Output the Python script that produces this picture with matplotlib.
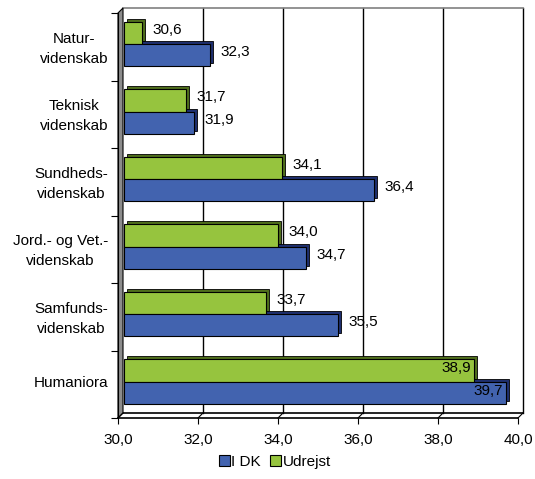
import numpy as np
import matplotlib.pyplot as plt
from matplotlib.patches import Patch, Polygon
from matplotlib.transforms import ScaledTranslation

plt.rcParams['font.family'] = ['Liberation Sans', 'DejaVu Sans']

categories = ["Natur-\nvidenskab", "Teknisk\nvidenskab", "Sundheds-\nvidenskab",
              "Jord.- og Vet.-\nvidenskab", "Samfunds-\nvidenskab", "Humaniora"]
i_dk = [32.3, 31.9, 36.4, 34.7, 35.5, 39.7]
udrejst = [30.6, 31.7, 34.1, 34.0, 33.7, 38.9]
xticks = [30, 32, 34, 36, 38, 40]

blue = "#4263AF"
blue_dark = "#1E2F6E"
green = "#96C43E"
green_dark = "#4F6E1C"
fs = 11

DPI = 100
fig = plt.figure(figsize=(5.35, 4.79), dpi=DPI)
W, H = 535, 479
ax = fig.add_axes([118 / W, 1 - 418 / H, 400 / W, 405 / H])
ax.set_xlim(30, 40)
ax.set_ylim(5.5, -0.5)

def shift(dx, dy):
    return ax.transData + ScaledTranslation(dx / DPI, dy / DPI, fig.dpi_scale_trans)

# back wall (3D depth)
depth = 5
back = ax.transAxes + ScaledTranslation(depth / DPI, depth / DPI, fig.dpi_scale_trans)
for t in xticks[1:]:
    ax.plot([t, t], [5.5, -0.5], color="black", lw=1.0, transform=shift(depth, depth), zorder=1,
            clip_on=False)
ax.plot([0, 1], [1, 1], color="#808080", lw=1.2, transform=back, clip_on=False, zorder=1)
ax.plot([0, 1], [0, 0], color="black", lw=1.2, transform=back, clip_on=False, zorder=1)

# left wall
dxa, dya = depth / 400, depth / 405
wall = Polygon([(0, 0), (dxa, dya), (dxa, 1 + dya), (0, 1)], closed=True,
               facecolor="#8C8C8C", edgecolor="black", lw=0.8, transform=ax.transAxes,
               clip_on=False, zorder=2)
ax.add_patch(wall)
# floor depth lines at ticks
for t in xticks:
    xa = (t - 30) / 10
    ax.plot([xa, xa + dxa], [0, dya], color="black", lw=0.8, transform=ax.transAxes,
            clip_on=False, zorder=2)

y = np.arange(len(categories))
h = 0.33
off = -0.04
y_g = y - h / 2 + off
y_b = y + h / 2 + off
base = 30.15

vals_g = np.array(udrejst) - base
vals_b = np.array(i_dk) - base

# bar depth faces
ax.barh(y_g, vals_g, h, left=base, color=green_dark, edgecolor="black", lw=0.6,
        transform=shift(3, 3), zorder=3, clip_on=False)
ax.barh(y_b, vals_b, h, left=base, color=blue_dark, edgecolor="black", lw=0.6,
        transform=shift(3, 3), zorder=3, clip_on=False)
ax.barh(y_g, vals_g, h, left=base, color=green, edgecolor="black", lw=0.8, zorder=4)
ax.barh(y_b, vals_b, h, left=base, color=blue, edgecolor="black", lw=0.8, zorder=4)

def fmt(v):
    return f"{v:.1f}".replace(".", ",")

for yy, v in list(zip(y_g, udrejst)) + list(zip(y_b, i_dk)):
    if v > 38.5:
        ax.text(v, yy, fmt(v), ha="right", va="center", fontsize=fs,
                transform=shift(-3, 2), zorder=6)
    else:
        ax.text(v, yy, fmt(v), ha="left", va="center", fontsize=fs,
                transform=shift(10, 3), zorder=6)

for s in ["top", "right"]:
    ax.spines[s].set_visible(False)
ax.spines["bottom"].set_linewidth(1.2)
ax.spines["left"].set_linewidth(0.8)
ax.spines["bottom"].set_zorder(5)

ax.set_xticks(xticks)
ax.set_xticklabels([fmt(t) for t in xticks], fontsize=fs)
ax.set_yticks(np.arange(-0.5, 6.0, 1.0), minor=True)
ax.set_yticks(y - 0.04)
ax.set_yticklabels(categories, fontsize=fs, linespacing=1.55, ha="right",
                   multialignment="center")
ax.tick_params(axis="y", which="major", length=0, pad=7)
ax.tick_params(axis="y", which="minor", length=5, width=0.8)
ax.tick_params(axis="x", length=4, width=0.8, pad=7)

handles = [Patch(facecolor=blue, edgecolor="black", lw=0.8, label="I DK"),
           Patch(facecolor=green, edgecolor="black", lw=0.8, label="Udrejst")]
fig.legend(handles=handles, loc="center", bbox_to_anchor=(275 / W, 1 - 462 / H), ncol=2,
           frameon=False, fontsize=fs, handlelength=0.7, handleheight=0.7,
           handletextpad=0.1, columnspacing=0.6)

fig.savefig("out.png", dpi=DPI)
